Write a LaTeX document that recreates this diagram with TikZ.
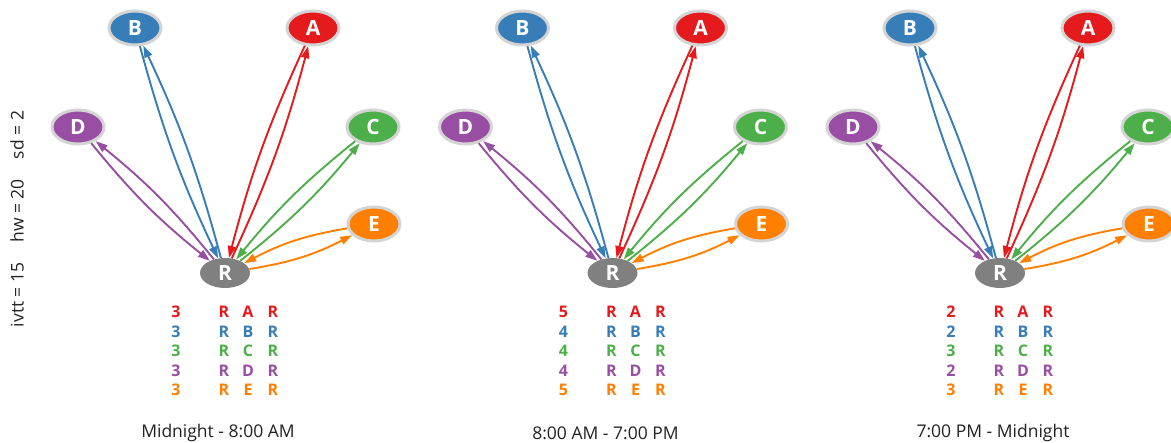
\documentclass[tikz,border=0pt]{standalone}
\usepackage{fontspec}
\setmainfont{Open Sans}
\usetikzlibrary{shapes.geometric,arrows.meta}
\definecolor{cA}{HTML}{E41A1C}
\definecolor{cB}{HTML}{377EB8}
\definecolor{cC}{HTML}{4DAF4A}
\definecolor{cD}{HTML}{984EA3}
\definecolor{cE}{HTML}{FF7F00}
\definecolor{cR}{HTML}{808080}
\definecolor{rim}{HTML}{D4D4D4}
\definecolor{txt}{HTML}{222222}
\tikzset{
  vtx/.style={ellipse, minimum width=52pt, minimum height=34pt, inner sep=0pt,
    draw=rim, line width=3pt, text=white, font=\fontsize{21}{21}\selectfont\bfseries},
  hub/.style={ellipse, minimum width=50pt, minimum height=30pt, inner sep=0pt,
    fill=cR, text=white, font=\fontsize{21}{21}\selectfont\bfseries},
  edge/.style={line width=1.9pt, -{Triangle[length=12pt,width=8pt]}},
  rowtxt/.style={font=\fontsize{16}{16}\selectfont\bfseries, inner sep=0pt},
  ttl/.style={font=\fontsize{17.5}{17.5}\selectfont, text=txt, inner sep=0pt},
}
\begin{document}
\begin{tikzpicture}[x=1pt,y=-1pt]
\useasboundingbox (0,0) rectangle (1171,443);
\clip (0,0) rectangle (1171,443);
\fill[white] (0,0) rectangle (1171,443);
\node[ttl, rotate=90] (lbl) at (17,219) {ivtt = 15\hspace{20pt}hw = 20\hspace{20pt}sd = 2};
\foreach \p/\ox/\ttltext/\na/\nb/\nc/\nd/\ne in {
  1/225/{Midnight - 8:00 AM}/3/3/3/3/3,
  2/612.5/{8:00 AM - 7:00 PM}/5/4/4/4/5,
  3/1000/{7:00 PM - Midnight}/2/2/3/2/3}{
  \node[hub] (R\p) at (\ox,273) {R};
  \node[vtx, fill=cB] (B\p) at ({\ox-90},28) {B};
  \node[vtx, fill=cA] (A\p) at ({\ox+88},28) {A};
  \node[vtx, fill=cD] (D\p) at ({\ox-147},127) {D};
  \node[vtx, fill=cC] (C\p) at ({\ox+148},127) {C};
  \node[vtx, fill=cE] (E\p) at ({\ox+149},224) {E};
  \draw[edge, cB] (R\p) to[bend right=5] (B\p);
  \draw[edge, cB] (B\p) to[bend right=5] (R\p);
  \draw[edge, cA] (R\p) to[bend right=5] (A\p);
  \draw[edge, cA] (A\p) to[bend right=5] (R\p);
  \draw[edge, cD] (R\p) to[bend right=6] (D\p);
  \draw[edge, cD] (D\p) to[bend right=6] (R\p);
  \draw[edge, cC] (R\p) to[bend right=6] (C\p);
  \draw[edge, cC] (C\p) to[bend right=6] (R\p);
  \draw[edge, cE] (R\p) to[bend right=9] (E\p);
  \draw[edge, cE] (E\p) to[bend right=9] (R\p);
  \foreach \k/\col/\n/\yy in {A/cA/\na/312, B/cB/\nb/332, C/cC/\nc/351, D/cD/\nd/371, E/cE/\ne/390}{
    \node[rowtxt, text=\col] (n\p\k) at ({\ox-49},\yy) {\n};
    \node[rowtxt, text=\col] (r\p\k) at ({\ox-1},\yy) {R};
    \node[rowtxt, text=\col] (m\p\k) at ({\ox+23},\yy) {\k};
    \node[rowtxt, text=\col] (s\p\k) at ({\ox+48},\yy) {R};
  }
  \node[ttl] (t\p) at ({\ox-7},433) {\ttltext};
}
\end{tikzpicture}
\end{document}
